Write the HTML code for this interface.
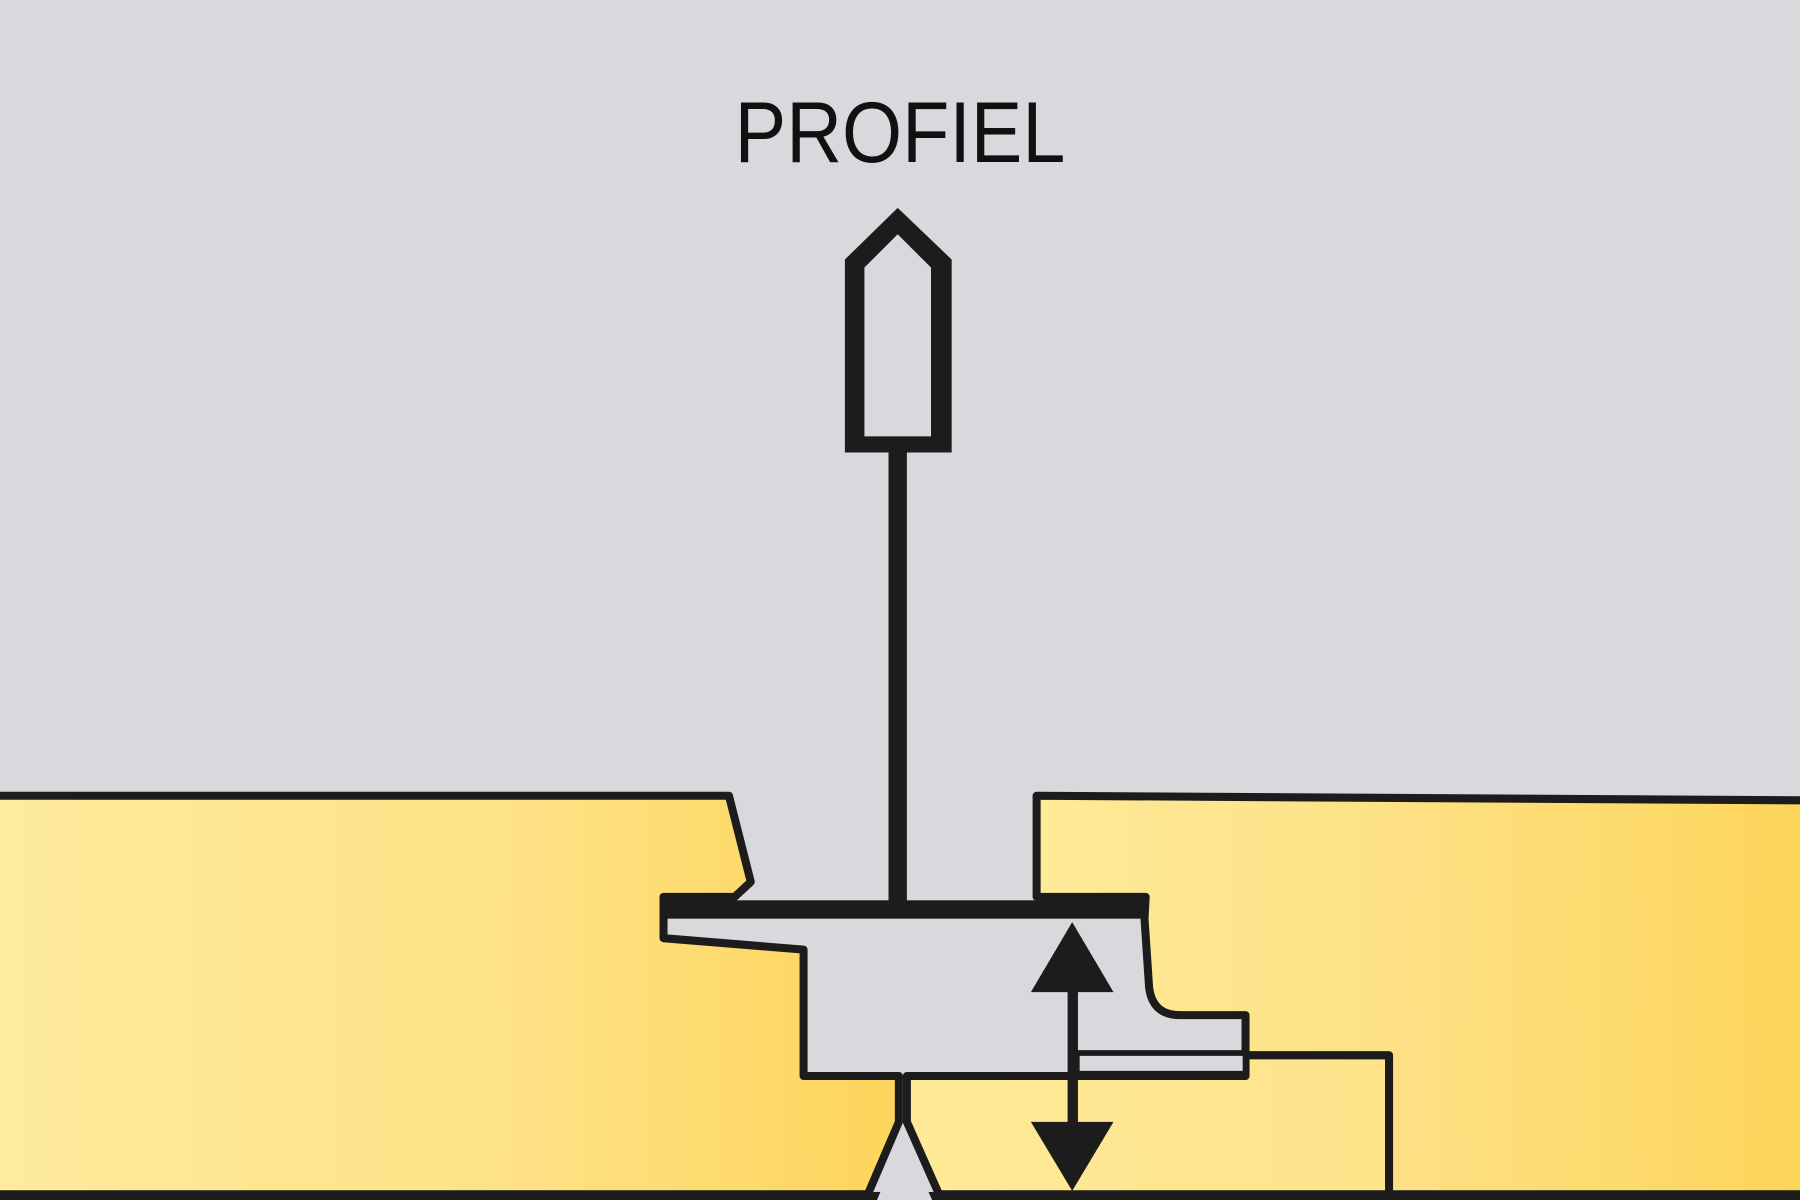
<!DOCTYPE html>
<html><head><meta charset="utf-8"><style>html,body{margin:0;padding:0;background:#d9d8dc}svg{display:block}</style></head>
<body>
<svg width="1800" height="1200" viewBox="0 0 1568 1045" preserveAspectRatio="none" xmlns="http://www.w3.org/2000/svg">
<defs>
<linearGradient id="gl" gradientUnits="userSpaceOnUse" x1="0" y1="0" x2="780" y2="0"><stop offset="0" stop-color="#feeb9d"/><stop offset="0.6" stop-color="#fee184"/><stop offset="1" stop-color="#fdd55b"/></linearGradient>
<linearGradient id="gr" gradientUnits="userSpaceOnUse" x1="900" y1="0" x2="1568" y2="0"><stop offset="0" stop-color="#feea98"/><stop offset="0.5" stop-color="#fde083"/><stop offset="1" stop-color="#fdd55a"/></linearGradient>
<linearGradient id="gm" gradientUnits="userSpaceOnUse" x1="790" y1="0" x2="1210" y2="0"><stop offset="0" stop-color="#feea98"/><stop offset="1" stop-color="#fee38a"/></linearGradient>
</defs>
<rect width="1568" height="1045" fill="#d9d8dc"/>
<text x="784" y="141" text-anchor="middle" font-family="Liberation Sans, sans-serif" font-size="75" textLength="288" lengthAdjust="spacingAndGlyphs" fill="#111">PROFIEL</text>
<g stroke="#1c1c1c" stroke-width="7" stroke-linejoin="round">
<path d="M-10,693 L635,693 L654,768 L640,781 L578,781 L578,817 L700,827 L700,937 L783,937 L783,977 L756,1040 L-10,1040 Z" fill="url(#gl)"/>
<path d="M903,781 L903,693 L1580,697 L1580,1040 L1210,1040 L1210,919 L1085,919 L1085,884 L1028,884 Q1004,884 1001,860 L997,800 L998,781 Z" fill="url(#gr)"/>
<path d="M790,937 L1085,937 L1085,919 L1210,919 L1210,1040 L818,1040 L790,977 Z" fill="url(#gm)"/>
<path d="M938,917 L1085,917 L1085,935 L938,935 Z" fill="#d9d8dc" stroke-width="5"/>
</g>
<rect x="775" y="937" width="22" height="3" fill="#1c1c1c"/>
<rect x="578" y="784" width="422" height="16" fill="#1c1c1c"/>
<rect x="774" y="392" width="16" height="395" fill="#1c1c1c"/>
<path d="M736,226 L782,181 L829,226 L829,394 L736,394 Z M753,233 L753,380 L811,380 L811,233 L782,204 Z" fill="#1c1c1c" fill-rule="evenodd"/>
<rect x="930" y="860" width="9" height="120" fill="#1c1c1c"/>
<path d="M934,803 L970,864 L898,864 Z" fill="#1c1c1c"/>
<path d="M898,977 L970,977 L934,1037 Z" fill="#1c1c1c"/>
<rect x="0" y="1038" width="1568" height="7" fill="#1c1c1c"/>
<path d="M764,1045 L787,990 L812,1045 Z" fill="#d9d8dc"/>
</svg>
</body></html>
